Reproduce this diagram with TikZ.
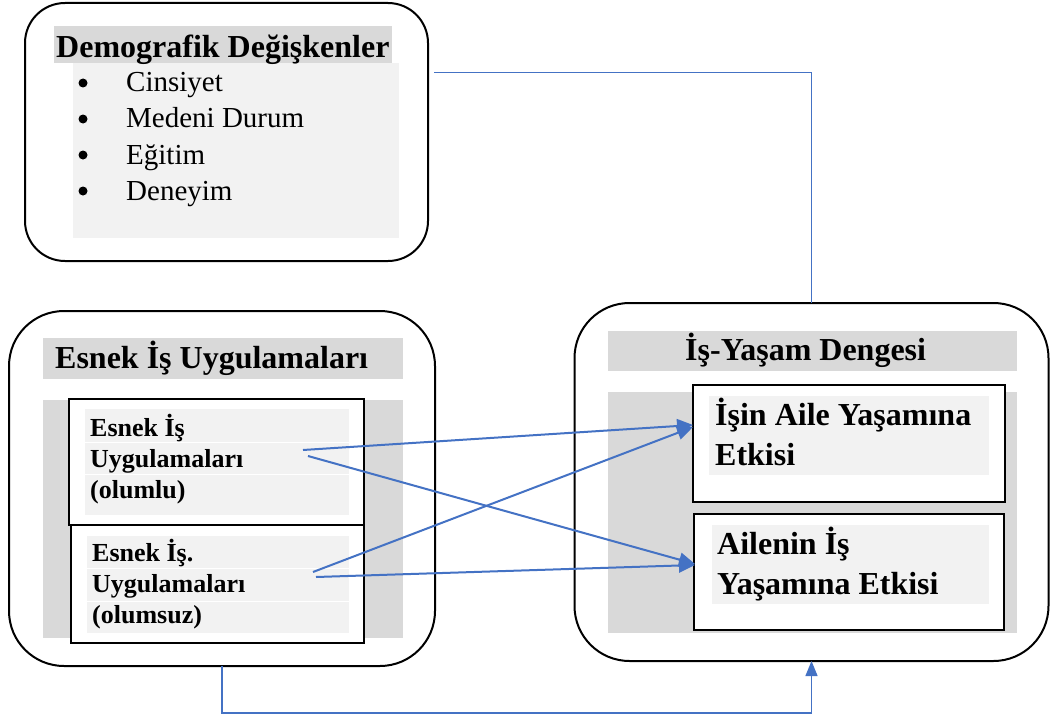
\documentclass[tikz,border=0pt]{standalone}
\usepackage{fontspec}
\setmainfont{Liberation Serif}
\usetikzlibrary{arrows.meta}
\definecolor{hdrgray}{HTML}{D9D9D9}
\definecolor{litegray}{HTML}{F2F2F2}
\definecolor{connblue}{HTML}{4472C4}
\begin{document}
\begin{tikzpicture}[x=1pt,y=-1pt,
  outerbox/.style={draw=black, line width=2pt, fill=white, inner sep=0pt, outer sep=0pt},
  innerbox/.style={draw=black, line width=2.5pt, fill=white, inner sep=0pt, outer sep=0pt},
  ttl/.style={anchor=base west, inner sep=0pt, font=\fontsize{32}{38}\selectfont\bfseries},
  itm/.style={anchor=base west, inner sep=0pt, font=\fontsize{29}{34}\selectfont},
  bul/.style={circle, fill=black, inner sep=0pt, minimum size=9pt},
  sml/.style={anchor=base west, inner sep=0pt, font=\fontsize{26}{31}\selectfont\bfseries},
  connline/.style={draw=connblue, line width=1.3pt},
  bigarrow/.style={draw=connblue, line width=2pt, -{Triangle[length=16pt,width=14pt]}},
  uparrow/.style={draw=connblue, line width=1.3pt, -{Triangle[length=15pt,width=12pt]}},
  sep/.style={draw=white, line width=1pt}]
\useasboundingbox (0,0) rectangle (1050,717);

% outer boxes
\node[outerbox, rounded corners=40pt, minimum width=403pt, minimum height=258pt] (demo) at (226.5,132) {};
\node[outerbox, rounded corners=55pt, minimum width=426pt, minimum height=355pt] (flex) at (222,488.5) {};
\node[outerbox, rounded corners=55pt, minimum width=474pt, minimum height=358pt] (balance) at (811.5,482) {};

% demographic box contents
\fill[hdrgray] (54,26) rectangle (392,63);
\fill[litegray] (73,63) rectangle (399,238);
\node[ttl] (demoT) at (56,58) {Demografik Değişkenler};
\node[bul] (b1) at (83,83) {};
\node[bul] (b2) at (83,119) {};
\node[bul] (b3) at (83,155) {};
\node[bul] (b4) at (83,191) {};
\node[itm] (i1) at (126,92) {Cinsiyet};
\node[itm] (i2) at (126,128) {Medeni Durum};
\node[itm] (i3) at (126,164) {Eğitim};
\node[itm] (i4) at (126,200) {Deneyim};

% flexible work box contents
\fill[hdrgray] (43,338) rectangle (403,379);
\node[ttl] (flexT) at (55,368) {Esnek İş Uygulamaları};
\fill[hdrgray] (43,400) rectangle (403,638);
\node[innerbox, minimum width=295pt, minimum height=126pt] (pos) at (216.5,462) {};
\node[innerbox, minimum width=293pt, minimum height=118pt] (neg) at (217.5,584) {};
\fill[litegray] (85,409) rectangle (349,515);
\fill[litegray] (87,536) rectangle (349,633);
\draw[sep] (85,442) -- (349,442);
\draw[sep] (85,474) -- (349,474);
\draw[sep] (87,568) -- (349,568);
\draw[sep] (87,601) -- (349,601);
\node[sml] (pos1) at (90,436) {Esnek İş};
\node[sml] (pos2) at (90,467) {Uygulamaları};
\node[sml] (pos3) at (90,498) {(olumlu)};
\node[sml] (neg1) at (92,561) {Esnek İş.};
\node[sml] (neg2) at (92,592) {Uygulamaları};
\node[sml] (neg3) at (92,623) {(olumsuz)};

% work-life balance box contents
\fill[hdrgray] (608,331) rectangle (1017,371);
\node[ttl] (balT) at (685,360) {İş-Yaşam Dengesi};
\fill[hdrgray] (608,392) rectangle (1017,633);
\node[innerbox, minimum width=312pt, minimum height=117pt] (effA) at (849,443.5) {};
\node[innerbox, minimum width=310pt, minimum height=116pt] (effB) at (849,572) {};
\fill[litegray] (709,396) rectangle (989,475);
\fill[litegray] (712,525) rectangle (989,604);
\node[ttl] (effA1) at (715,425) {İşin Aile Yaşamına};
\node[ttl] (effA2) at (715,465) {Etkisi};
\node[ttl] (effB1) at (717,554) {Ailenin İş};
\node[ttl] (effB2) at (717,594) {Yaşamına Etkisi};

% arrow endpoints
\coordinate (posOutA) at (303,450);
\coordinate (posOutB) at (308,456);
\coordinate (negOutA) at (313,572);
\coordinate (negOutB) at (316,577);
\coordinate (effAin) at (693,425);
\coordinate (effAin2) at (693,427);
\coordinate (effBin) at (695,564);
\coordinate (effBin2) at (695,565);

\draw[bigarrow] (posOutA) -- (effAin);
\draw[bigarrow] (posOutB) -- (effBin);
\draw[bigarrow] (negOutA) -- (effAin2);
\draw[bigarrow] (negOutB) -- (effBin2);

% connectors to balance box
\coordinate (demoOut) at (434,72.5);
\draw[connline] (demoOut) -| (balance.north);
\coordinate (bottomCorner) at (222,713);
\draw[uparrow] (bottomCorner |- flex.south) -- (bottomCorner) -| (balance.south);
\end{tikzpicture}
\end{document}
